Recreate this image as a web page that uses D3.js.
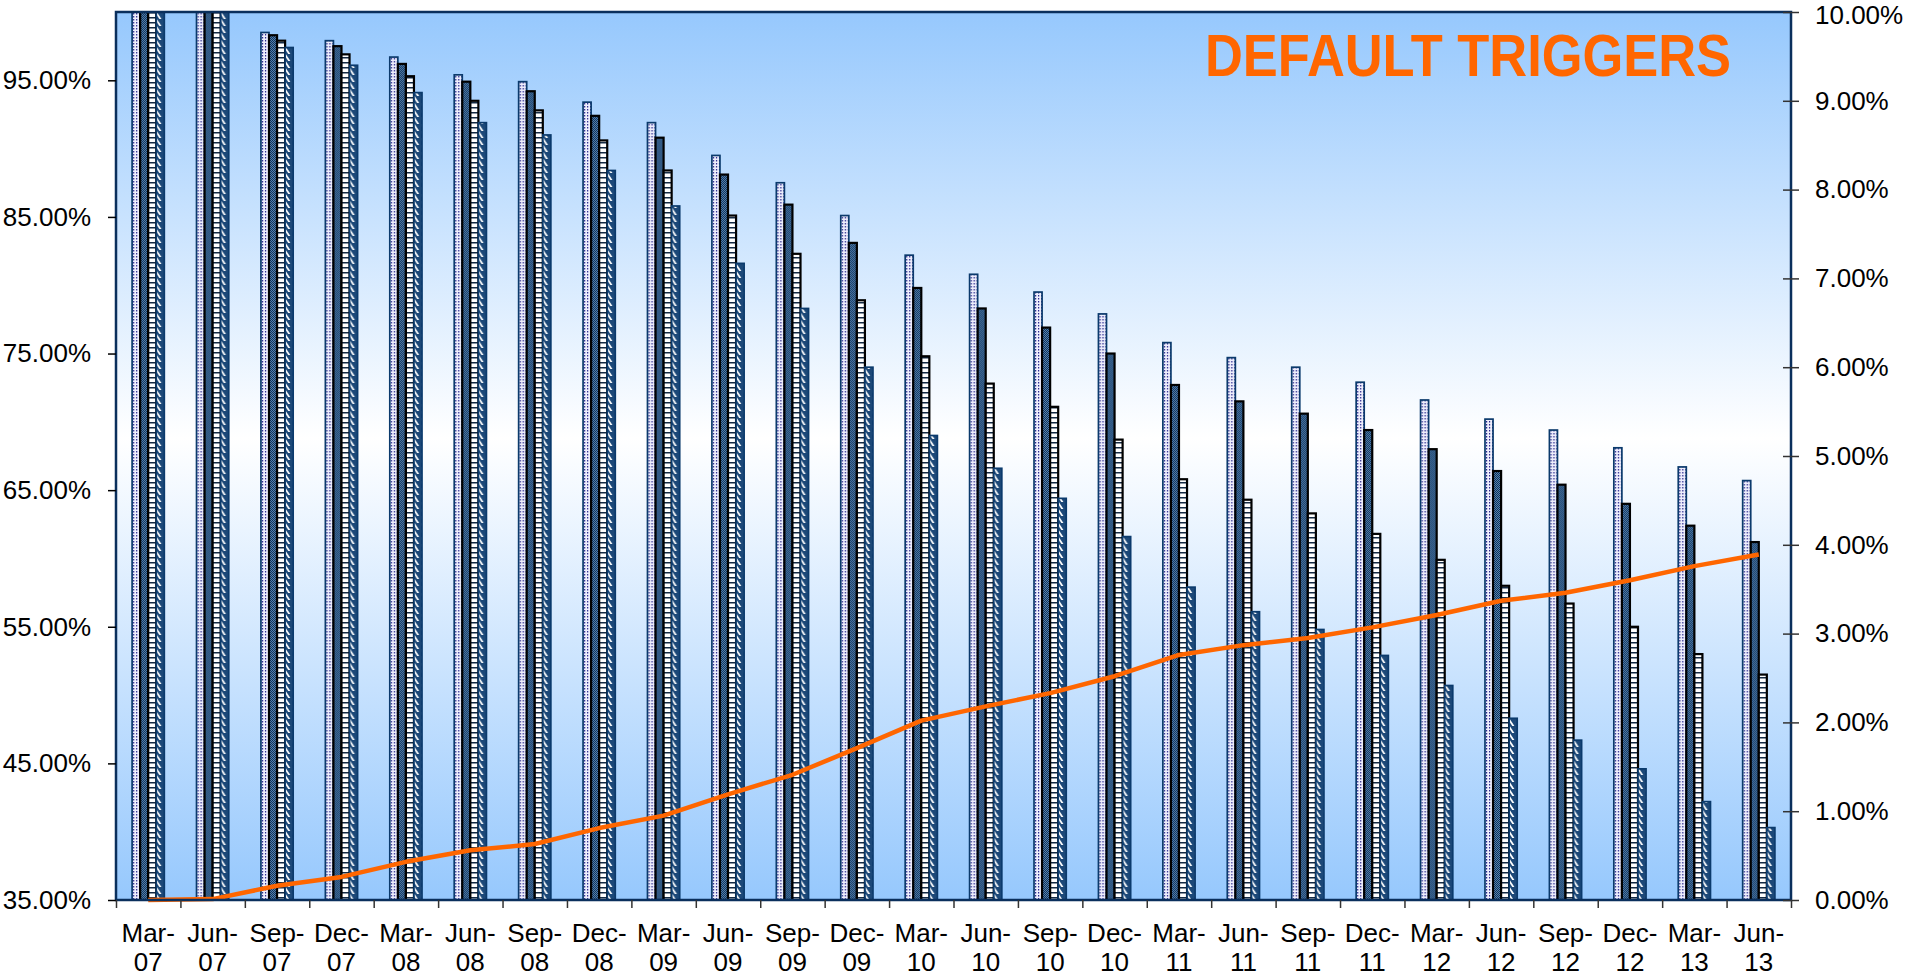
<!DOCTYPE html>
<html>
<head>
<meta charset="utf-8">
<script src="https://cdn.jsdelivr.net/npm/d3@7"></script>
<style>
  body { margin: 0; background: #fff; }
  .axis text { font-family: "Liberation Sans", Arial, sans-serif; font-size: 26px; fill: #000; }
  .axis .domain { display: none; }
</style>
</head>
<body>
<div id="chart"></div>
<script>
var categories = ["Mar-07","Jun-07","Sep-07","Dec-07","Mar-08","Jun-08","Sep-08","Dec-08","Mar-09","Jun-09","Sep-09","Dec-09","Mar-10","Jun-10","Sep-10","Dec-10","Mar-11","Jun-11","Sep-11","Dec-11","Mar-12","Jun-12","Sep-12","Dec-12","Mar-13","Jun-13"];

// bar series (left axis, %)
var series1 = [100,100,98.5,97.9,96.7,95.4,94.9,93.4,91.9,89.5,87.5,85.1,82.2,80.8,79.5,77.9,75.8,74.7,74.0,72.9,71.6,70.2,69.4,68.1,66.7,65.7];
var series2 = [100,100,98.3,97.5,96.2,94.9,94.2,92.4,90.8,88.1,85.9,83.1,79.8,78.3,76.9,75.0,72.7,71.5,70.6,69.4,68.0,66.4,65.4,64.0,62.4,61.2];
var series3 = [100,100,97.9,96.9,95.3,93.5,92.8,90.6,88.4,85.1,82.3,78.9,74.8,72.8,71.1,68.7,65.8,64.3,63.3,61.8,59.9,58.0,56.7,55.0,53.0,51.5];
var series4 = [100,100,97.4,96.1,94.1,91.9,91.0,88.4,85.8,81.6,78.3,74.0,69.0,66.6,64.4,61.6,57.9,56.1,54.8,52.9,50.7,48.3,46.7,44.6,42.2,40.3];

// line series (right axis, %)
var defaultRate = [0.0,0.01,0.16,0.26,0.43,0.56,0.63,0.81,0.95,1.19,1.41,1.71,2.02,2.18,2.33,2.52,2.76,2.87,2.95,3.07,3.21,3.37,3.46,3.60,3.76,3.89];

var leftTicks = [35,45,55,65,75,85,95];
var rightTicks = [0,1,2,3,4,5,6,7,8,9,10];
var title = "DEFAULT TRIGGERS";

var seriesNames = ["s1","s2","s3","s4"];
var seriesData = [series1, series2, series3, series4];

var margin = {top: 12, right: 118, bottom: 79, left: 116},
    width = 1909 - margin.left - margin.right,
    height = 979 - margin.top - margin.bottom;

var svg = d3.select("#chart").append("svg")
    .attr("width", width + margin.left + margin.right)
    .attr("height", height + margin.top + margin.bottom)
  .append("g")
    .attr("transform", "translate(" + margin.left + "," + margin.top + ")");

var defs = svg.append("defs");

// background gradient: blue at edges, white in the middle
var grad = defs.append("linearGradient")
    .attr("id", "bgGrad")
    .attr("x1", 0).attr("y1", 0).attr("x2", 0).attr("y2", 1);
grad.append("stop").attr("offset", "0%").attr("stop-color", "#96c8fd");
grad.append("stop").attr("offset", "48%").attr("stop-color", "#ffffff");
grad.append("stop").attr("offset", "100%").attr("stop-color", "#96c8fd");

defs.append("clipPath").attr("id", "plotClip")
  .append("rect").attr("width", width).attr("height", height);

// fill patterns for the 4 bar series
var p1 = defs.append("pattern").attr("id", "pat_s1")
    .attr("patternUnits", "userSpaceOnUse").attr("width", 3).attr("height", 3);
p1.append("rect").attr("width", 3).attr("height", 3).attr("fill", "#eeeefc");
p1.append("rect").attr("x", 1).attr("y", 1).attr("width", 1.2).attr("height", 1.5).attr("fill", "#26268c");

var p2 = defs.append("pattern").attr("id", "pat_s2")
    .attr("patternUnits", "userSpaceOnUse").attr("width", 2).attr("height", 2);
p2.append("rect").attr("width", 2).attr("height", 2).attr("fill", "#0f3158");
p2.append("rect").attr("width", 1).attr("height", 1).attr("fill", "#5683b1");
p2.append("rect").attr("x", 1).attr("y", 1).attr("width", 1).attr("height", 1).attr("fill", "#5683b1");

var p3 = defs.append("pattern").attr("id", "pat_s3")
    .attr("patternUnits", "userSpaceOnUse").attr("width", 4).attr("height", 5);
p3.append("rect").attr("width", 4).attr("height", 5).attr("fill", "#ffffff");
p3.append("rect").attr("y", 0).attr("width", 4).attr("height", 1.5).attr("fill", "#142a44");

var p4 = defs.append("pattern").attr("id", "pat_s4")
    .attr("patternUnits", "userSpaceOnUse").attr("width", 8).attr("height", 7);
p4.append("rect").attr("width", 8).attr("height", 7).attr("fill", "#1c4878");
p4.append("path").attr("d", "M-1,-1 L5,8").attr("stroke", "#ffffff").attr("stroke-width", 1.8);

var strokeColors = {s1: "#0b3a6c", s2: "#000000", s3: "#000000", s4: "#0b3a6c"};
var strokeWidths = {s1: 1.7, s2: 2.2, s3: 2.2, s4: 1.7};

// scales
var x = d3.scaleBand()
    .domain(categories)
    .range([0, width])
    .paddingInner(0.5)
    .paddingOuter(0.25);

var xInner = d3.scaleBand()
    .domain(seriesNames)
    .range([0, x.bandwidth()]);

var xEdges = d3.scaleLinear()
    .domain([0, categories.length])
    .range([0, width]);

var y = d3.scaleLinear()
    .domain([35, 100])
    .range([height, 0]);

var y2 = d3.scaleLinear()
    .domain([0, 10])
    .range([height, 0]);

var pctFormat = function(d) { return d3.format(".2f")(d) + "%"; };

// plot background
svg.append("rect")
    .attr("width", width)
    .attr("height", height)
    .attr("fill", "url(#bgGrad)");

// bars
var plot = svg.append("g").attr("clip-path", "url(#plotClip)");

var groups = plot.selectAll(".group")
    .data(categories)
  .enter().append("g")
    .attr("class", "group")
    .attr("transform", function(d) { return "translate(" + x(d) + ",0)"; });

groups.selectAll("rect")
    .data(function(d, i) {
      return seriesNames.map(function(s, k) { return {series: s, value: seriesData[k][i]}; });
    })
  .enter().append("rect")
    .attr("x", function(d) { return xInner(d.series); })
    .attr("y", function(d) { return y(d.value); })
    .attr("width", xInner.bandwidth())
    .attr("height", function(d) { return height - y(d.value); })
    .attr("fill", function(d) { return "url(#pat_" + d.series + ")"; })
    .attr("stroke", function(d) { return strokeColors[d.series]; })
    .attr("stroke-width", function(d) { return strokeWidths[d.series]; });

// default rate line
var line = d3.line()
    .x(function(d, i) { return x(categories[i]) + x.bandwidth() / 2; })
    .y(function(d) { return y2(d); });

svg.append("path")
    .datum(defaultRate)
    .attr("d", line)
    .attr("fill", "none")
    .attr("stroke", "#ff6600")
    .attr("stroke-width", 4.5)
    .attr("stroke-linejoin", "round");

// plot border
svg.append("rect")
    .attr("width", width)
    .attr("height", height)
    .attr("fill", "none")
    .attr("stroke", "#0a2f5c")
    .attr("stroke-width", 2.5);

// left axis
svg.append("g")
    .attr("class", "axis y-left")
    .call(d3.axisLeft(y).tickValues(leftTicks).tickSize(8).tickPadding(17).tickFormat(pctFormat))
    .selectAll("line").attr("stroke", "#000").attr("stroke-width", 1.5);

// right axis, ticks cross the axis line
var rightAxis = svg.append("g")
    .attr("class", "axis y-right")
    .attr("transform", "translate(" + width + ",0)")
    .call(d3.axisRight(y2).tickValues(rightTicks).tickSize(8).tickPadding(16).tickFormat(pctFormat));
rightAxis.selectAll("line")
    .attr("x1", -8)
    .attr("stroke", "#333")
    .attr("stroke-width", 1.5);
// keep the top label inside the page
rightAxis.selectAll("text")
    .filter(function(d) { return d === 10; })
    .attr("y", 3);

// bottom axis: ticks at category edges
svg.append("g")
    .attr("class", "axis x-ticks")
    .attr("transform", "translate(0," + height + ")")
    .call(d3.axisBottom(xEdges).ticks(categories.length).tickSize(8).tickFormat(""))
    .selectAll("line").attr("stroke", "#333").attr("stroke-width", 1.5);

// bottom axis labels, two lines each
var xLabels = svg.append("g")
    .attr("class", "axis x-labels")
    .attr("transform", "translate(0," + height + ")")
    .call(d3.axisBottom(x).tickSize(0).tickPadding(0));
xLabels.selectAll("line").remove();
xLabels.selectAll("text")
    .attr("y", null)
    .attr("dy", null)
    .text(null)
    .each(function(d) {
      var parts = d.split("-");
      var t = d3.select(this);
      t.append("tspan").attr("x", 0).attr("y", 42).text(parts[0] + "-");
      t.append("tspan").attr("x", 0).attr("y", 71).text(parts[1]);
    });

// title
svg.append("text")
    .attr("x", 1731 - margin.left)
    .attr("y", 75.5 - margin.top)
    .attr("text-anchor", "end")
    .attr("textLength", 526)
    .attr("lengthAdjust", "spacingAndGlyphs")
    .style("font-family", "'Liberation Sans', Arial, sans-serif")
    .style("font-weight", "bold")
    .style("font-size", "59px")
    .style("fill", "#ff6600")
    .text(title);
</script>
</body>
</html>
